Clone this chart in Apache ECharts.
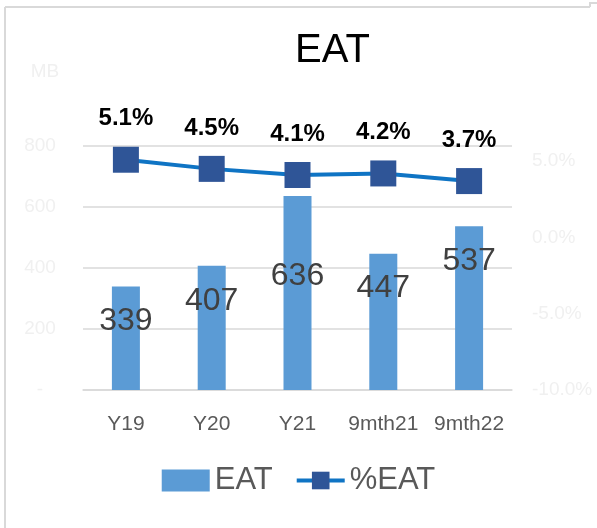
<!DOCTYPE html>
<html>
<head>
<meta charset="utf-8">
<script src="https://cdn.jsdelivr.net/npm/echarts@6/dist/echarts.min.js"></script>
<style>
html, body { margin: 0; padding: 0; background: #fff; }
#chart { width: 597px; height: 528px; }
</style>
</head>
<body>
<div id="chart"></div>
<script>
// chart data
var categories = ["Y19", "Y20", "Y21", "9mth21", "9mth22"];
var eatValues = [339, 407, 636, 447, 537];
var eatPct = [0.051, 0.045, 0.041, 0.042, 0.037];
var eatPctLabels = ["5.1%", "4.5%", "4.1%", "4.2%", "3.7%"];

var font = "Liberation Sans, Arial, sans-serif";
var faint = "#f0f0f0";

var chart = echarts.init(document.getElementById("chart"));

chart.setOption({
    animation: false,
    textStyle: { fontFamily: font },
    title: {
        text: "EAT",
        left: 290,
        top: 26,
        textStyle: { fontSize: 40, fontWeight: "normal", color: "#000" }
    },
    graphic: [
        { type: "line", shape: { x1: 5, y1: 7, x2: 5, y2: 528 }, style: { stroke: "#d9d9d9", lineWidth: 2 } },
        { type: "line", shape: { x1: 5, y1: 7, x2: 590, y2: 7 }, style: { stroke: "#d9d9d9", lineWidth: 2 } },
        { type: "polyline", shape: { points: [[590, 7], [590, 3], [597, 3]] }, style: { stroke: "#d9d9d9", lineWidth: 2, fill: null } }
    ],
    grid: {
        left: 83,
        right: 85,
        top: 146,
        bottom: 138
    },
    legend: {
        bottom: 27,
        left: "center",
        itemWidth: 48,
        itemHeight: 22,
        itemGap: 22,
        lineStyle: { width: 4 },
        textStyle: { fontSize: 31, color: "#595959" },
        data: [{ name: "EAT", icon: "rect" }, "%EAT"]
    },
    xAxis: {
        type: "category",
        data: categories,
        axisTick: { show: false },
        axisLine: { lineStyle: { color: "#d9d9d9", width: 1.5 } },
        axisLabel: { interval: 0, margin: 24, fontSize: 21, color: "#595959" }
    },
    yAxis: [
        {
            type: "value",
            name: "MB",
            nameLocation: "end",
            nameGap: 65,
            nameTextStyle: { color: faint, fontSize: 19, align: "center", padding: [0, 76, 0, 0] },
            min: 0,
            max: 800,
            interval: 200,
            axisLine: { show: false },
            axisTick: { show: false },
            splitLine: { lineStyle: { color: "#d9d9d9", width: 1.5 } },
            axisLabel: {
                margin: 43,
                align: "center",
                fontSize: 19,
                color: faint,
                formatter: function (v) { return v === 0 ? "-" : v; }
            }
        },
        {
            type: "value",
            min: -0.1,
            max: 0.06,
            interval: 0.05,
            axisLine: { show: false },
            axisTick: { show: false },
            splitLine: { show: false },
            axisLabel: {
                margin: 20,
                fontSize: 19,
                color: faint,
                showMaxLabel: false,
                formatter: function (v) { return (v * 100).toFixed(1) + "%"; }
            }
        }
    ],
    series: [
        {
            name: "EAT",
            type: "bar",
            barWidth: 28,
            itemStyle: { color: "#5b9bd5" },
            label: {
                show: true,
                position: "insideTop",
                distance: 19,
                fontSize: 32,
                color: "#404040"
            },
            data: eatValues.map(function (v, i) {
                return i === 2 ? { value: v, label: { distance: 64 } } : v;
            })
        },
        {
            name: "%EAT",
            type: "line",
            yAxisIndex: 1,
            symbol: "rect",
            symbolSize: 26,
            lineStyle: { color: "#0f74c4", width: 4 },
            itemStyle: { color: "#2f5597" },
            label: {
                show: true,
                position: "top",
                distance: 16,
                fontSize: 24,
                fontWeight: "bold",
                color: "#000",
                formatter: function (p) { return eatPctLabels[p.dataIndex]; }
            },
            data: eatPct
        }
    ]
});
</script>
</body>
</html>
